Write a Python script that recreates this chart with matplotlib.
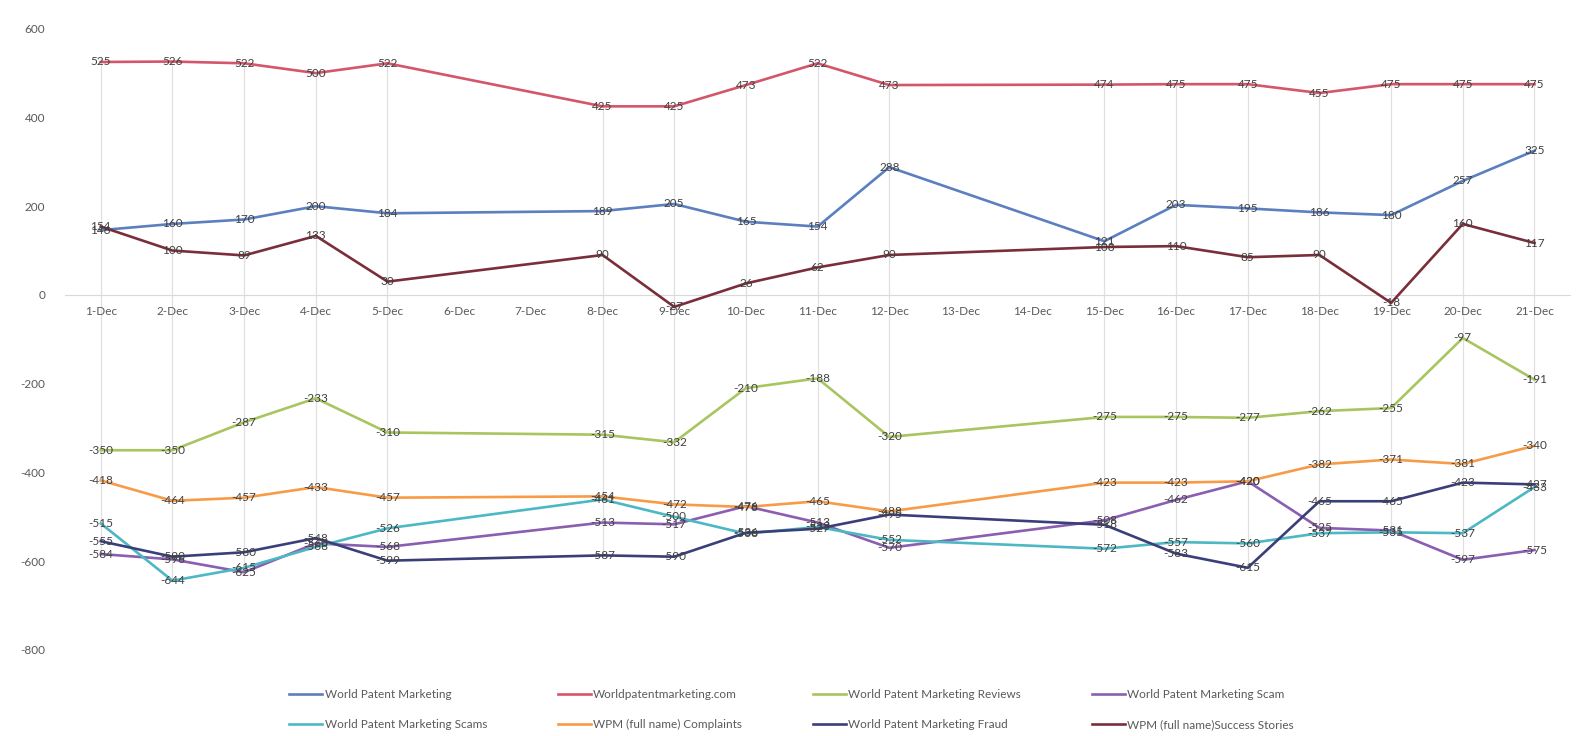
import matplotlib
matplotlib.use("Agg")
import matplotlib.pyplot as plt
import numpy as np

# category labels (no data on 6, 7, 13, 14 Dec)
days = ["1-Dec", "2-Dec", "3-Dec", "4-Dec", "5-Dec", "6-Dec", "7-Dec", "8-Dec", "9-Dec",
        "10-Dec", "11-Dec", "12-Dec", "13-Dec", "14-Dec", "15-Dec", "16-Dec", "17-Dec",
        "18-Dec", "19-Dec", "20-Dec", "21-Dec"]

N = None
wpm = [146, 160, 170, 200, 184, N, N, 189, 205, 165, 154, 288, N, N, 121, 203, 195, 186, 180, 257, 325]
wpm_com = [525, 526, 522, 500, 522, N, N, 425, 425, 473, 522, 473, N, N, 474, 475, 475, 455, 475, 475, 475]
reviews = [-350, -350, -287, -233, -310, N, N, -315, -332, -210, -188, -320, N, N, -275, -275, -277, -262, -255, -97, -191]
scam = [-584, -596, -625, -560, -568, N, N, -513, -517, -476, -513, -570, N, N, -508, -462, -420, -525, -531, -597, -575]
scams = [-515, -644, -615, -568, -526, N, N, -461, -500, -538, -523, -552, N, N, -572, -557, -560, -537, -535, -537, -433]
complaints = [-418, -464, -457, -433, -457, N, N, -454, -472, -478, -465, -488, N, N, -423, -423, -420, -382, -371, -381, -340]
fraud = [-555, -590, -580, -548, -599, N, N, -587, -590, -536, -527, -495, N, N, -518, -583, -615, -465, -465, -423, -427]
success = [154, 100, 89, 133, 30, N, N, 90, -27, 26, 62, 90, N, N, 108, 110, 85, 90, -18, 160, 117]

names = ["World Patent Marketing", "Worldpatentmarketing.com", "World Patent Marketing Reviews",
         "World Patent Marketing Scam", "World Patent Marketing Scams", "WPM (full name) Complaints",
         "World Patent Marketing Fraud", "WPM (full name)Success Stories"]
colors = ["#5b7fbf", "#d4566a", "#a8c560", "#8a5eb0", "#4bb8c4", "#f79b46", "#3a3f7a", "#7a2e3a"]
series = [wpm, wpm_com, reviews, scam, scams, complaints, fraud, success]

plt.rcParams['font.family'] = ['Lato', 'DejaVu Sans']
plt.rcParams['axes.unicode_minus'] = False

fig = plt.figure(figsize=(15.83, 7.36), dpi=100)
ax = fig.add_axes([0.041, 0.117, 0.951, 0.844])

x = np.arange(len(days))
data = np.array([[np.nan if v is None else v for v in s] for s in series], dtype=float)
ok = ~np.isnan(data[0])

# high-low lines
ax.vlines(x[ok], data[:, ok].min(axis=0), data[:, ok].max(axis=0), color="#e0e0e0", lw=0.9, zorder=1)

handles = []
for vals, name, col in zip(data, names, colors):
    h, = ax.plot(x[ok], vals[ok], color=col, lw=1.9, label=name, zorder=3)
    handles.append(h)
    for xi, v in zip(x[ok], vals[ok]):
        ax.annotate(str(int(v)), (xi, v), ha="center", va="center", fontsize=8.5,
                    color="#404040", zorder=4)

ax.set_xlim(-0.5, len(days) - 0.5)
ax.set_ylim(-800, 600)
ax.set_yticks(range(-800, 601, 200))
ax.set_xticks(x)
ax.set_xticklabels(days)
ax.tick_params(axis="both", length=0, labelsize=8.5, labelcolor="#595959")
ax.tick_params(axis="y", pad=14)
ax.tick_params(axis="x", pad=8)
for s in ["top", "right", "left"]:
    ax.spines[s].set_visible(False)
ax.spines["bottom"].set_position(("data", 0))
ax.spines["bottom"].set_color("#d9d9d9")

order = [0, 4, 1, 5, 2, 6, 3, 7]
fig.legend([handles[i] for i in order], [names[i] for i in order], ncol=4, loc="center",
           bbox_to_anchor=(0.5, 0.036), frameon=False, fontsize=8.5, handlelength=2.8,
           columnspacing=6.0, labelcolor="#595959", handletextpad=0.2, labelspacing=1.6)

fig.savefig("out.png", dpi=100)
